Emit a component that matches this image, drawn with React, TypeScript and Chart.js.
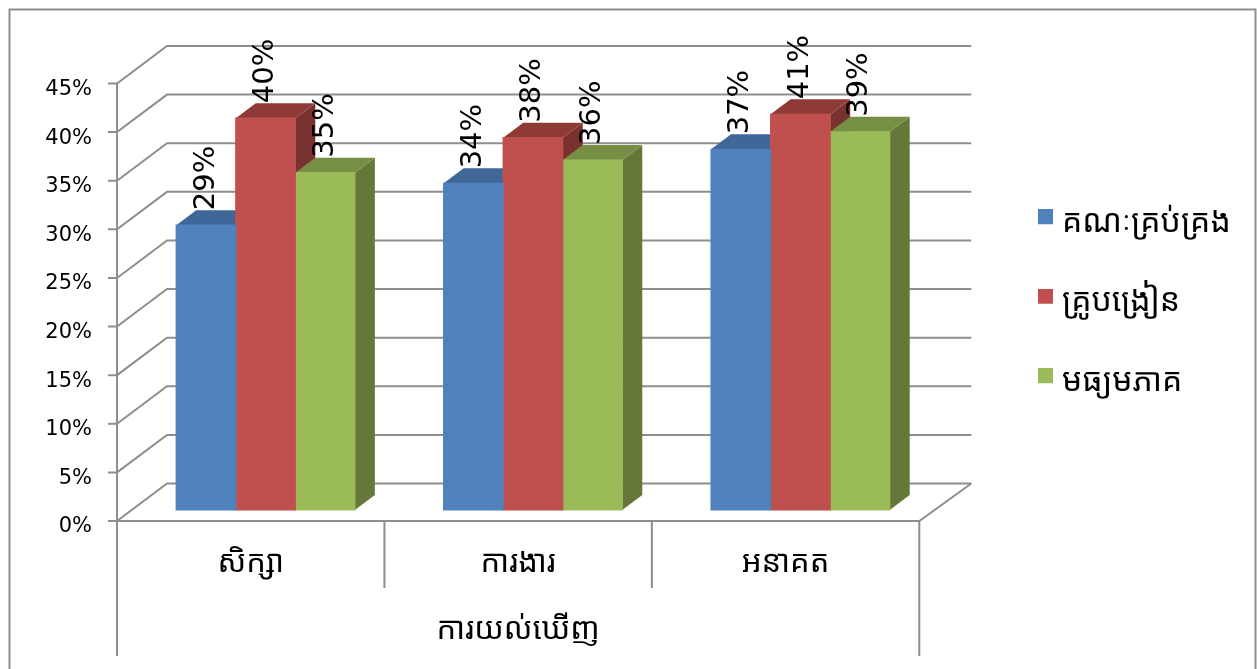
import React, { useEffect, useRef } from "react";
import { Chart, registerables } from "chart.js";

Chart.register(...registerables);

const categories = ["សិក្សា", "ការងារ", "អនាគត"];
const axisGroupTitle = "ការយល់ឃើញ";
const seriesNames = ["គណៈគ្រប់គ្រង", "គ្រូបង្រៀន", "មធ្យមភាគ"];
const managementValues = [29.3, 33.6, 37.1];
const teacherValues = [40.3, 38.3, 40.7];
const averageValues = [34.7, 36.0, 38.9];
const yTicksMax = 45;
const yTicksStep = 5;

const frontColors = ["#4F81BD", "#C0504D", "#9BBB59"];
const topColors = ["#3F6797", "#8E3B38", "#778F45"];
const sideColors = ["#36587F", "#7A3230", "#657837"];
const lineColor = "#8E8E8E";
const latin = '"DejaVu Sans", sans-serif';
const khmer = '"Noto Sans Khmer", "Khmer OS", "Khmer OS System", "DejaVu Sans", sans-serif';

// 3-D projection, in pixels
const WALL_DX = 50;
const WALL_DX_RIGHT = 52;
const WALL_DY = 37.5;
const BAR_DX = 20;
const BAR_DY = 15;
const BAR_BASE_LIFT = 11; // bars stand further back on the floor than the front edge
const UNIT = 437.5 / 45; // px per value unit of the front plane
const LEGEND_PADDING = 47.5;
const SWATCH = 15;
const SWATCH_RAISE = 6; // swatches sit a little above the middle of their text

function makeSwatch(color: string) {
  const c = document.createElement("canvas");
  c.width = SWATCH;
  c.height = SWATCH + SWATCH_RAISE * 2;
  const g = c.getContext("2d") as CanvasRenderingContext2D;
  g.fillStyle = color;
  g.fillRect(0, 0, SWATCH, SWATCH);
  return c;
}

const perspective = {
  id: "perspective",
  afterLayout(chart: any) {
    const l = chart.legend;
    if (l) {
      const w = l.right - l.left;
      l.left = 1045 - LEGEND_PADDING;
      l.right = l.left + w;
    }
  },
  beforeDatasetsDraw(chart: any) {
    const { ctx, scales } = chart;
    const y = scales.y;
    const x = scales.x;
    ctx.save();
    ctx.strokeStyle = lineColor;
    ctx.lineWidth = 2;
    ctx.lineJoin = "miter";
    // outer frame
    ctx.beginPath();
    ctx.moveTo(9.5, 680);
    ctx.lineTo(9.5, 9.5);
    ctx.lineTo(1255.5, 9.5);
    ctx.lineTo(1255.5, 680);
    ctx.stroke();
    // side wall + back wall gridlines
    for (let v = 0; v <= yTicksMax; v += yTicksStep) {
      const py = y.getPixelForValue(v);
      ctx.beginPath();
      ctx.moveTo(x.left - 9, py);
      ctx.lineTo(x.left, py);
      ctx.lineTo(x.left + WALL_DX, py - WALL_DY);
      ctx.lineTo(x.right + WALL_DX_RIGHT, py - WALL_DY);
      ctx.stroke();
    }
    // floor edges
    const y0 = y.getPixelForValue(0);
    ctx.beginPath();
    ctx.moveTo(x.left, y0);
    ctx.lineTo(x.right, y0);
    ctx.lineTo(x.right + WALL_DX_RIGHT, y0 - WALL_DY);
    ctx.stroke();
    // value axis line and category separators
    ctx.beginPath();
    ctx.moveTo(x.left, y.getPixelForValue(yTicksMax));
    ctx.lineTo(x.left, 656);
    ctx.moveTo(x.right, y0);
    ctx.lineTo(x.right, 656);
    const n = categories.length;
    for (let i = 1; i < n; i++) {
      const sx = x.left + ((x.right - x.left) * i) / n;
      ctx.moveTo(sx, y0);
      ctx.lineTo(sx, 588);
    }
    ctx.stroke();
    // bar side and top faces, left to right
    const nGroups = categories.length;
    for (let g = 0; g < nGroups; g++) {
      chart.data.datasets.forEach((_: any, d: number) => {
        const bar = chart.getDatasetMeta(d).data[g];
        const left = bar.x - bar.width / 2;
        const right = bar.x + bar.width / 2;
        ctx.fillStyle = sideColors[d];
        ctx.beginPath();
        ctx.moveTo(right, bar.y);
        ctx.lineTo(right + BAR_DX, bar.y - BAR_DY);
        ctx.lineTo(right + BAR_DX, bar.base - BAR_DY);
        ctx.lineTo(right, bar.base);
        ctx.closePath();
        ctx.fill();
        ctx.fillStyle = topColors[d];
        ctx.beginPath();
        ctx.moveTo(left, bar.y);
        ctx.lineTo(left + BAR_DX, bar.y - BAR_DY);
        ctx.lineTo(right + BAR_DX, bar.y - BAR_DY);
        ctx.lineTo(right, bar.y);
        ctx.closePath();
        ctx.fill();
      });
    }
    ctx.restore();
  },
  afterDatasetsDraw(chart: any) {
    const { ctx } = chart;
    ctx.save();
    ctx.fillStyle = "#000";
    ctx.font = `29px ${latin}`;
    ctx.textAlign = "left";
    ctx.textBaseline = "middle";
    chart.data.datasets.forEach((ds: any, d: number) => {
      chart.getDatasetMeta(d).data.forEach((bar: any, i: number) => {
        ctx.save();
        ctx.translate(bar.x, bar.y - BAR_DY);
        ctx.rotate(-Math.PI / 2);
        ctx.fillText(`${Math.round(ds.data[i].y)}%`, 0, 0);
        ctx.restore();
      });
    });
    ctx.restore();
  },
};

const toPoints = (values: number[]) => values.map((v, i) => ({ x: i, y: v }));

export default function App() {
  const ref = useRef<HTMLCanvasElement>(null);
  useEffect(() => {
    const swatches = frontColors.map(makeSwatch);
    const chart = new Chart(ref.current as HTMLCanvasElement, {
      type: "bar",
      data: {
        datasets: [managementValues, teacherValues, averageValues].map((values, d) => ({
          label: seriesNames[d],
          data: toPoints(values),
          backgroundColor: frontColors[d],
          xAxisID: "xBars",
          yAxisID: "yBars",
          categoryPercentage: 0.668,
          barPercentage: 1,
          inflateAmount: 0.6,
        })),
      },
      options: {
        responsive: false,
        animation: false,
        events: [],
        layout: { padding: { top: 83.5, right: 94.5, left: 0, bottom: 0 } },
        plugins: {
          tooltip: { enabled: false },
          legend: {
            position: "right",
            align: "center",
            fullSize: false,
            labels: {
              usePointStyle: true,
              pointStyleWidth: 1,
              padding: LEGEND_PADDING,
              color: "#000",
              font: { family: khmer, size: 32 },
              generateLabels: (c: any) =>
                c.data.datasets.map((ds: any, i: number) => ({
                  text: ds.label,
                  fillStyle: frontColors[i],
                  strokeStyle: frontColors[i],
                  lineWidth: 0,
                  pointStyle: swatches[i],
                  fontColor: "#000",
                  hidden: false,
                  datasetIndex: i,
                })),
            },
          },
        },
        scales: {
          x: {
            type: "category",
            labels: categories,
            offset: true,
            position: "bottom",
            grid: { display: false, drawTicks: false },
            border: { display: false },
            ticks: { color: "#000", padding: 24, maxRotation: 0, font: { family: khmer, size: 31 } },
            title: {
              display: true,
              text: axisGroupTitle,
              color: "#000",
              font: { family: khmer, size: 31 },
              padding: { top: 0, bottom: 20 },
            },
            afterFit: (s: any) => {
              s.height = 148;
            },
          },
          y: {
            type: "linear",
            position: "left",
            min: 0,
            max: yTicksMax,
            grid: { display: false, drawTicks: false },
            border: { display: false },
            ticks: {
              stepSize: yTicksStep,
              color: "#000",
              padding: 25,
              labelOffset: 6,
              font: { family: latin, size: 21 },
              callback: (v: any) => `${v}%`,
            },
            afterFit: (s: any) => {
              s.width = 117;
            },
          },
          xBars: {
            type: "linear",
            display: false,
            offset: false,
            bounds: "data",
            min: -0.5 - 14.8 / 267.3,
            max: categories.length - 0.5 - 14.8 / 267.3,
            ticks: { stepSize: 1, includeBounds: false },
          },
          yBars: {
            type: "linear",
            display: false,
            min: -BAR_BASE_LIFT / UNIT,
            max: yTicksMax - BAR_BASE_LIFT / UNIT,
          },
        },
      } as any,
      plugins: [perspective],
    });
    return () => chart.destroy();
  }, []);
  return (
    <div style={{ position: "absolute", left: 0, top: 0, width: 1257, height: 669 }}>
      <canvas ref={ref} width={1257} height={669} style={{ display: "block" }} />
    </div>
  );
}
